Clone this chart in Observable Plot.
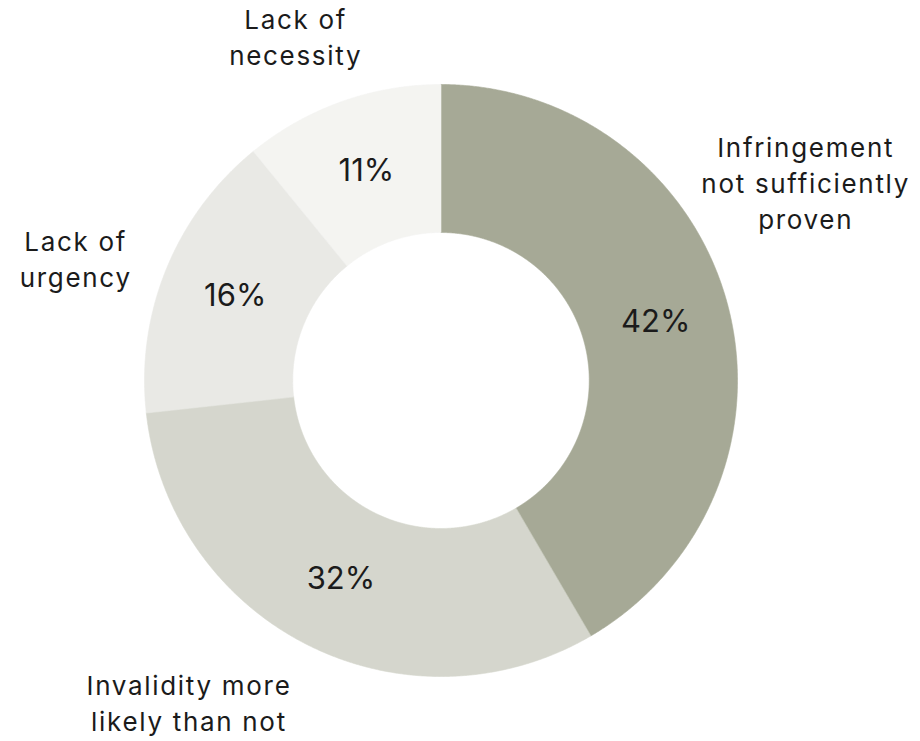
<!DOCTYPE html>
<html>
<head>
<meta charset="utf-8">
<script src="https://cdn.jsdelivr.net/npm/d3@7"></script>
<script src="https://cdn.jsdelivr.net/npm/@observablehq/plot@0.6"></script>
<style>
  html, body { margin: 0; padding: 0; background: #ffffff; }
  #chart { width: 920px; height: 741px; }
  .outer-label text { letter-spacing: 0.065em; }
</style>
</head>
<body>
<div id="chart"></div>
<script>
// ---- data ----
const categories = [
  "Infringement not sufficiently proven",
  "Invalidity more likely than not",
  "Lack of urgency",
  "Lack of necessity"
];
const values = [42, 32, 16, 11];
const valueLabels = ["42%", "32%", "16%", "11%"];
const displayNames = [
  "Infringement\nnot sufficiently\nproven",
  "Invalidity more\nlikely than not",
  "Lack of\nurgency",
  "Lack of\nnecessity"
];
const colors = ["#a6a996", "#d5d6cd", "#e9e9e5", "#f4f4f1"];

// ---- layout (annotation placement, in unit-circle coordinates) ----
const outerLabelX = [1.230, -0.850, -1.232, -0.490];
const outerLabelY = [0.673, -1.084, 0.416, 1.166];
const innerRatio = 0.5;

// ---- build slice polygons through d3.pie ----
const pie = d3.pie().sort(null).value(d => d.value);
const arcs = pie(categories.map((c, i) => ({category: c, value: values[i]})));

const polyPoints = [];
const step = Math.PI / 720;
arcs.forEach(a => {
  const n = Math.max(2, Math.ceil((a.endAngle - a.startAngle) / step));
  for (let k = 0; k <= n; k++) {
    const t = a.startAngle + (a.endAngle - a.startAngle) * k / n;
    polyPoints.push({category: a.data.category, x: Math.sin(t), y: Math.cos(t)});
  }
  for (let k = n; k >= 0; k--) {
    const t = a.startAngle + (a.endAngle - a.startAngle) * k / n;
    polyPoints.push({category: a.data.category, x: innerRatio * Math.sin(t), y: innerRatio * Math.cos(t)});
  }
});

const midR = (1 + innerRatio) / 2;
const pctLabels = arcs.map((a, i) => {
  const m = (a.startAngle + a.endAngle) / 2;
  return {text: valueLabels[i], x: midR * Math.sin(m), y: midR * Math.cos(m)};
});
const nameLabels = displayNames.map((t, i) => ({text: t, x: outerLabelX[i], y: outerLabelY[i]}));

const chart = Plot.plot({
  width: 920,
  height: 741,
  margin: 0,
  style: {fontFamily: "Inter, 'Noto Sans', sans-serif", background: "#ffffff"},
  x: {type: "linear", domain: [-1, 1], range: [144, 737], axis: null},
  y: {type: "linear", domain: [-1, 1], range: [676, 84], axis: null},
  color: {domain: categories, range: colors},
  marks: [
    Plot.line(polyPoints, {
      x: "x", y: "y", z: "category",
      fill: "category", stroke: "category", strokeWidth: 0.6,
      curve: "linear-closed"
    }),
    Plot.text(pctLabels, {
      x: "x", y: "y", text: "text",
      fontSize: 31, fill: "#1b1b1b"
    }),
    Plot.text(nameLabels, {
      x: "x", y: "y", text: "text",
      fontSize: 26, lineHeight: 1.4, fill: "#1b1b1b", textAnchor: "middle",
      className: "outer-label"
    })
  ]
});
document.getElementById("chart").appendChild(chart);
</script>
</body>
</html>
